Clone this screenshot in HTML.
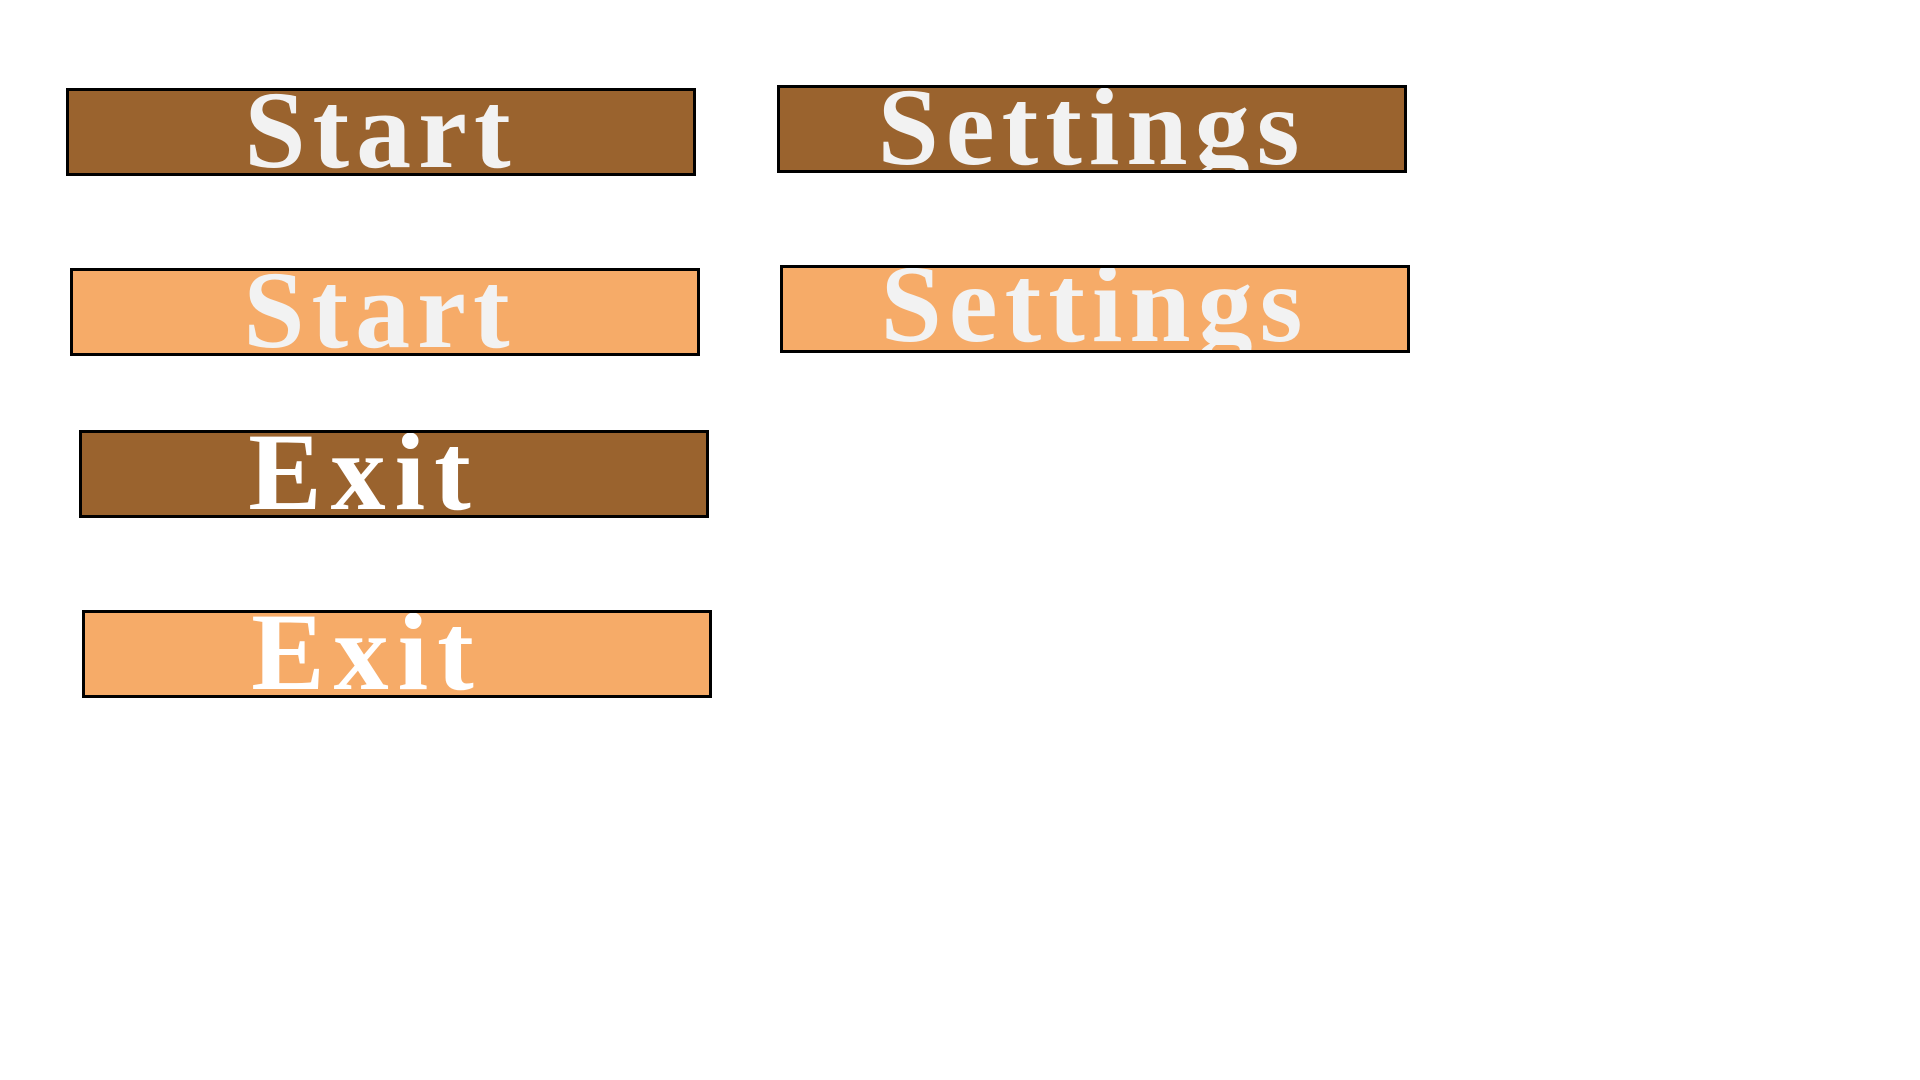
<!DOCTYPE html>
<html><head><meta charset="utf-8"><style>
html,body{margin:0;padding:0;background:#fff;width:1920px;height:1080px;overflow:hidden}
.b{position:absolute;box-sizing:border-box;border:3px solid #000;width:630px;height:88px;overflow:hidden}
.br{background:#9a632e}.or{background:#f6ab68}
.t{position:absolute;left:0;right:0;text-align:center;font-family:"Liberation Serif",serif;font-weight:bold;color:#f2f2f2;font-size:110px;line-height:1;top:-16px;letter-spacing:7px}
.w{color:#fff}
</style></head><body>
<div class="b br" style="left:66px;top:88px"><div class="t" style="left:0;right:0">Start</div></div>
<div class="b br" style="left:777px;top:85px"><div class="t" style="left:0;right:0">Settings</div></div>
<div class="b or" style="left:70px;top:268px"><div class="t" style="left:0;right:10px">Start</div></div>
<div class="b or" style="left:780px;top:265px"><div class="t" style="left:0;right:0;top:-19px">Settings</div></div>
<div class="b br" style="left:79px;top:430px"><div class="t w" style="left:0;right:60px;letter-spacing:9px">Exit</div></div>
<div class="b or" style="left:82px;top:610px"><div class="t w" style="left:0;right:60px;letter-spacing:9px">Exit</div></div>
</body></html>
